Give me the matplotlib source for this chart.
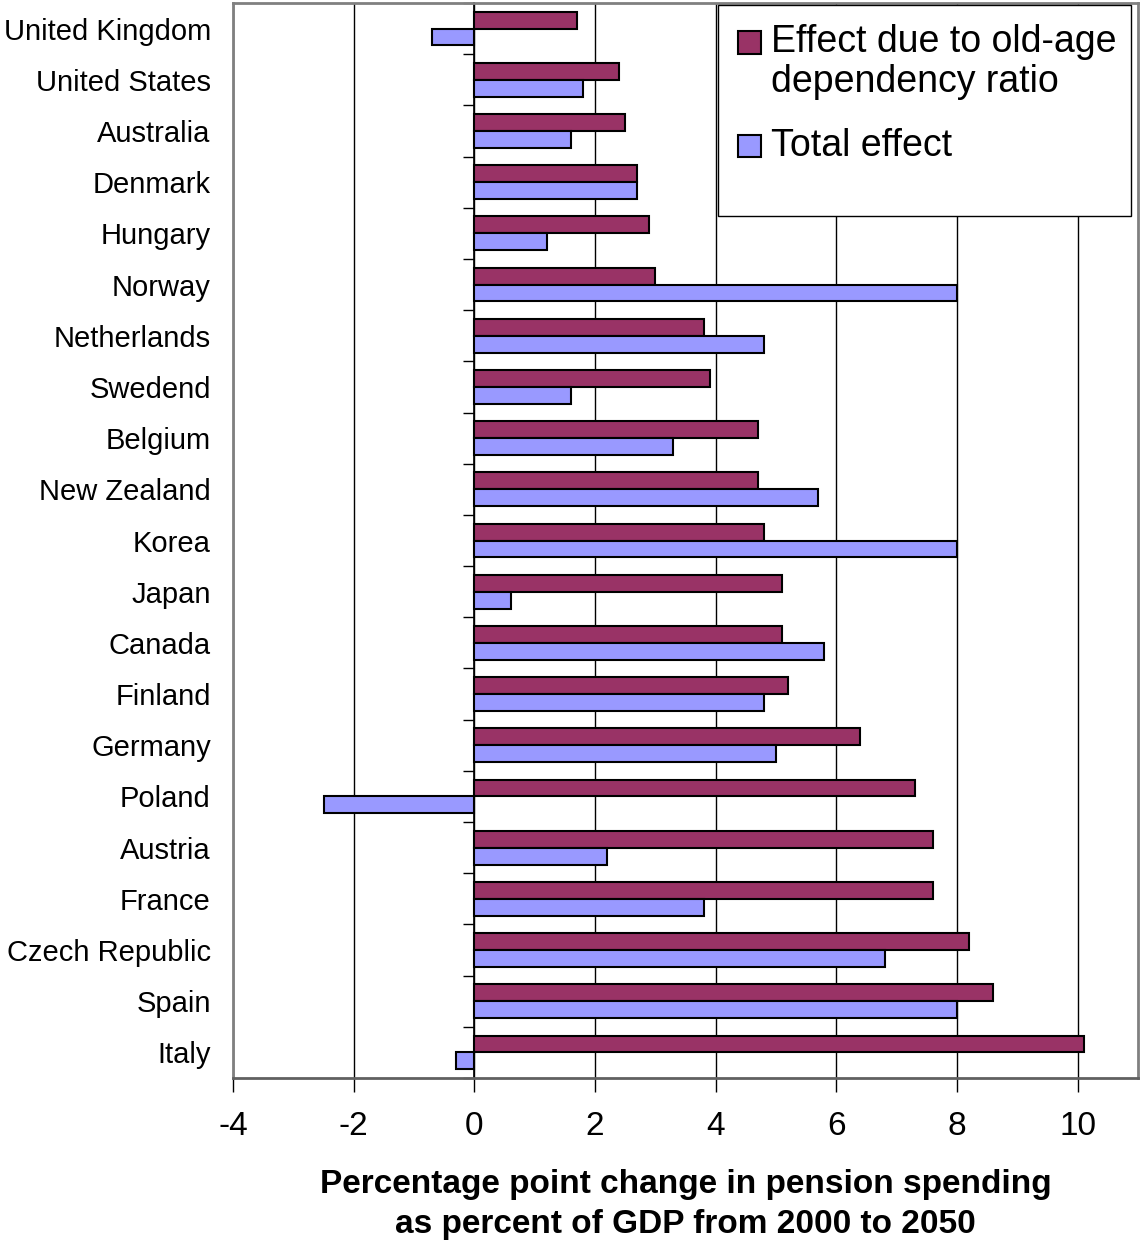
import matplotlib.pyplot as plt
import numpy as np
from matplotlib.patches import Rectangle

plt.rcParams['font.family'] = ['Liberation Sans', 'DejaVu Sans']

paises = ["United Kingdom", "United States", "Australia", "Denmark", "Hungary",
          "Norway", "Netherlands", "Swedend", "Belgium", "New Zealand", "Korea",
          "Japan", "Canada", "Finland", "Germany", "Poland", "Austria", "France",
          "Czech Republic", "Spain", "Italy"]
efecto_dependencia = [1.7, 2.4, 2.5, 2.7, 2.9, 3.0, 3.8, 3.9, 4.7, 4.7, 4.8,
                      5.1, 5.1, 5.2, 6.4, 7.3, 7.6, 7.6, 8.2, 8.6, 10.1]
efecto_total = [-0.7, 1.8, 1.6, 2.7, 1.2, 8.0, 4.8, 1.6, 3.3, 5.7, 8.0,
                0.6, 5.8, 4.8, 5.0, -2.5, 2.2, 3.8, 6.8, 8.0, -0.3]
etiquetas_x = [-4, -2, 0, 2, 4, 6, 8, 10]

color_dep = "#993366"
color_tot = "#9999FF"
gris = "#808080"

fig = plt.figure(figsize=(11.4, 12.4), dpi=100)
ax = fig.add_axes([233 / 1140, 1 - 1078 / 1240, 905 / 1140, 1075 / 1240])

y = np.arange(len(paises))
alto = 0.33
ax.barh(y - alto / 2, efecto_dependencia, alto, color=color_dep,
        edgecolor="black", linewidth=1.5, zorder=3)
ax.barh(y + alto / 2, efecto_total, alto, color=color_tot,
        edgecolor="black", linewidth=1.5, zorder=3)

ax.set_xlim(-4, 11)
ax.set_ylim(len(paises) - 0.5, -0.5)

ax.set_xticks(etiquetas_x)
ax.set_xticklabels([str(v) for v in etiquetas_x], fontsize=24)
ax.tick_params(axis="x", direction="out", length=10, width=1, color="black", pad=14)
ax.grid(axis="x", color="black", linewidth=1, zorder=1)

ax.set_yticks(y)
ax.set_yticklabels(paises, fontsize=21, va="center_baseline")
ax.tick_params(axis="y", length=0, pad=16)

for s in ax.spines.values():
    s.set_color(gris)
    s.set_linewidth(2)
ax.spines["bottom"].set_color("#606060")

# eje de categorias en x = 0
eje_cat = ax.secondary_yaxis(4 / 15)
eje_cat.set_yticks(np.arange(len(paises) + 1) - 0.5)
eje_cat.set_yticklabels([])
eje_cat.tick_params(length=8, width=1, direction="out", color="black")
eje_cat.spines["left"].set_color("black")
eje_cat.spines["left"].set_linewidth(1.2)

ax.set_xlabel("Percentage point change in pension spending\nas percent of GDP from 2000 to 2050",
              fontsize=24, fontweight="bold", labelpad=19, linespacing=1.4)

# Leyenda
caja = Rectangle((0.536, 0.802), 0.456, 0.196, transform=ax.transAxes,
                 facecolor="white", edgecolor="black", linewidth=1, zorder=5)
ax.add_patch(caja)
entradas = [("Effect due to old-age\ndependency ratio", color_dep, 0.9635),
            ("Total effect", color_tot, 0.867)]
for texto, color, yy in entradas:
    ax.add_patch(Rectangle((0.558, yy - 0.0105), 0.025, 0.021, transform=ax.transAxes,
                           facecolor=color, edgecolor="black", linewidth=1.5, zorder=6))
    ax.text(0.594, yy + 0.0165, texto, transform=ax.transAxes, fontsize=27,
            va="top", ha="left", zorder=7, linespacing=1.12)

fig.savefig("out.png", dpi=100)
